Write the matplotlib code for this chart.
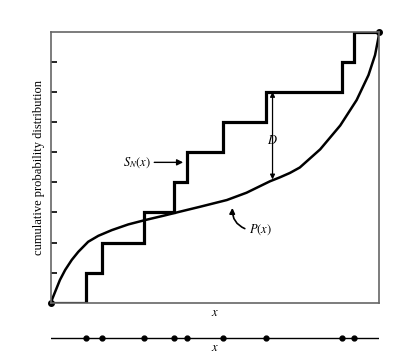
import matplotlib.pyplot as plt
import numpy as np

plt.rcParams['font.family'] = 'Liberation Serif'
plt.rcParams['mathtext.fontset'] = 'stix'

# sample points (sorted)
xs = [0.107, 0.156, 0.284, 0.375, 0.415, 0.524, 0.655, 0.886, 0.923]
n = len(xs)

# theoretical cumulative distribution P(x)
px = [0, 0.013, 0.028, 0.044, 0.064, 0.084, 0.114, 0.145, 0.186, 0.236,
      0.287, 0.343, 0.393, 0.454, 0.536, 0.596, 0.667, 0.698, 0.728, 0.758,
      0.820, 0.881, 0.931, 0.967, 0.987, 0.997, 1.0]
py = [0, 0.039, 0.084, 0.121, 0.158, 0.188, 0.225, 0.247, 0.268, 0.289,
      0.305, 0.321, 0.336, 0.354, 0.379, 0.406, 0.448, 0.463, 0.479, 0.499,
      0.566, 0.654, 0.748, 0.840, 0.914, 0.976, 1.0]

fig = plt.figure(figsize=(4.1, 3.63), dpi=100)
ax = fig.add_axes([0.1237, 0.166, 0.8015, 0.7466])

sx = [0] + xs + [1]
sy = [0] + [(i + 1) / n for i in range(n)] + [1]
ax.step(sx, sy, where='post', color='black', lw=2.3, solid_joinstyle='miter')
ax.plot(px, py, color='black', lw=1.8, solid_joinstyle='round')
ax.plot([0, 1], [0, 1], 'o', color='black', ms=4, clip_on=False)

ax.set_xlim(0, 1)
ax.set_ylim(0, 1)
ax.set_xticks([])
ax.set_yticks(np.arange(1, n) / n)
ax.tick_params(axis='y', direction='in', length=4, width=1.2, labelleft=False)
for s in ax.spines.values():
    s.set_color('#666666')
    s.set_linewidth(1.2)

ax.set_ylabel('cumulative probability distribution', fontsize=9, labelpad=4)
ax.set_xlabel('$x$', fontsize=9, labelpad=3)

# annotations
ax.annotate('$S_N(x)$', xy=(0.403, 0.518), xytext=(0.264, 0.518),
            fontsize=9, va='center', ha='center',
            arrowprops=dict(arrowstyle='-|>', color='black', lw=1, shrinkA=0, shrinkB=0, mutation_scale=9))
ax.annotate('', xy=(0.675, 7 / n), xytext=(0.675, 0.455),
            arrowprops=dict(arrowstyle='<|-|>', color='black', lw=0.9, shrinkA=0, shrinkB=0, mutation_scale=7))
ax.text(0.675, 0.6, '$D$', fontsize=9, ha='center', va='center')
ax.annotate('$P(x)$', xy=(0.553, 0.355), xytext=(0.603, 0.268),
            fontsize=9, va='center', ha='left',
            arrowprops=dict(arrowstyle='-|>', color='black', lw=1.2, shrinkA=1, shrinkB=1,
                            mutation_scale=8, relpos=(0, 0.5),
                            connectionstyle='arc3,rad=-0.4'))

# sample points on the x line
ax2 = fig.add_axes([0.1237, 0.03, 0.8015, 0.08])
ax2.axhline(0, color='black', lw=1)
ax2.plot(xs, [0] * n, 'o', color='black', ms=3.5)
ax2.set_xlim(0, 1)
ax2.set_ylim(-1, 1)
ax2.axis('off')
ax2.text(0.5, -0.7, '$x$', fontsize=9, ha='center', va='center')

fig.savefig('out.png')
